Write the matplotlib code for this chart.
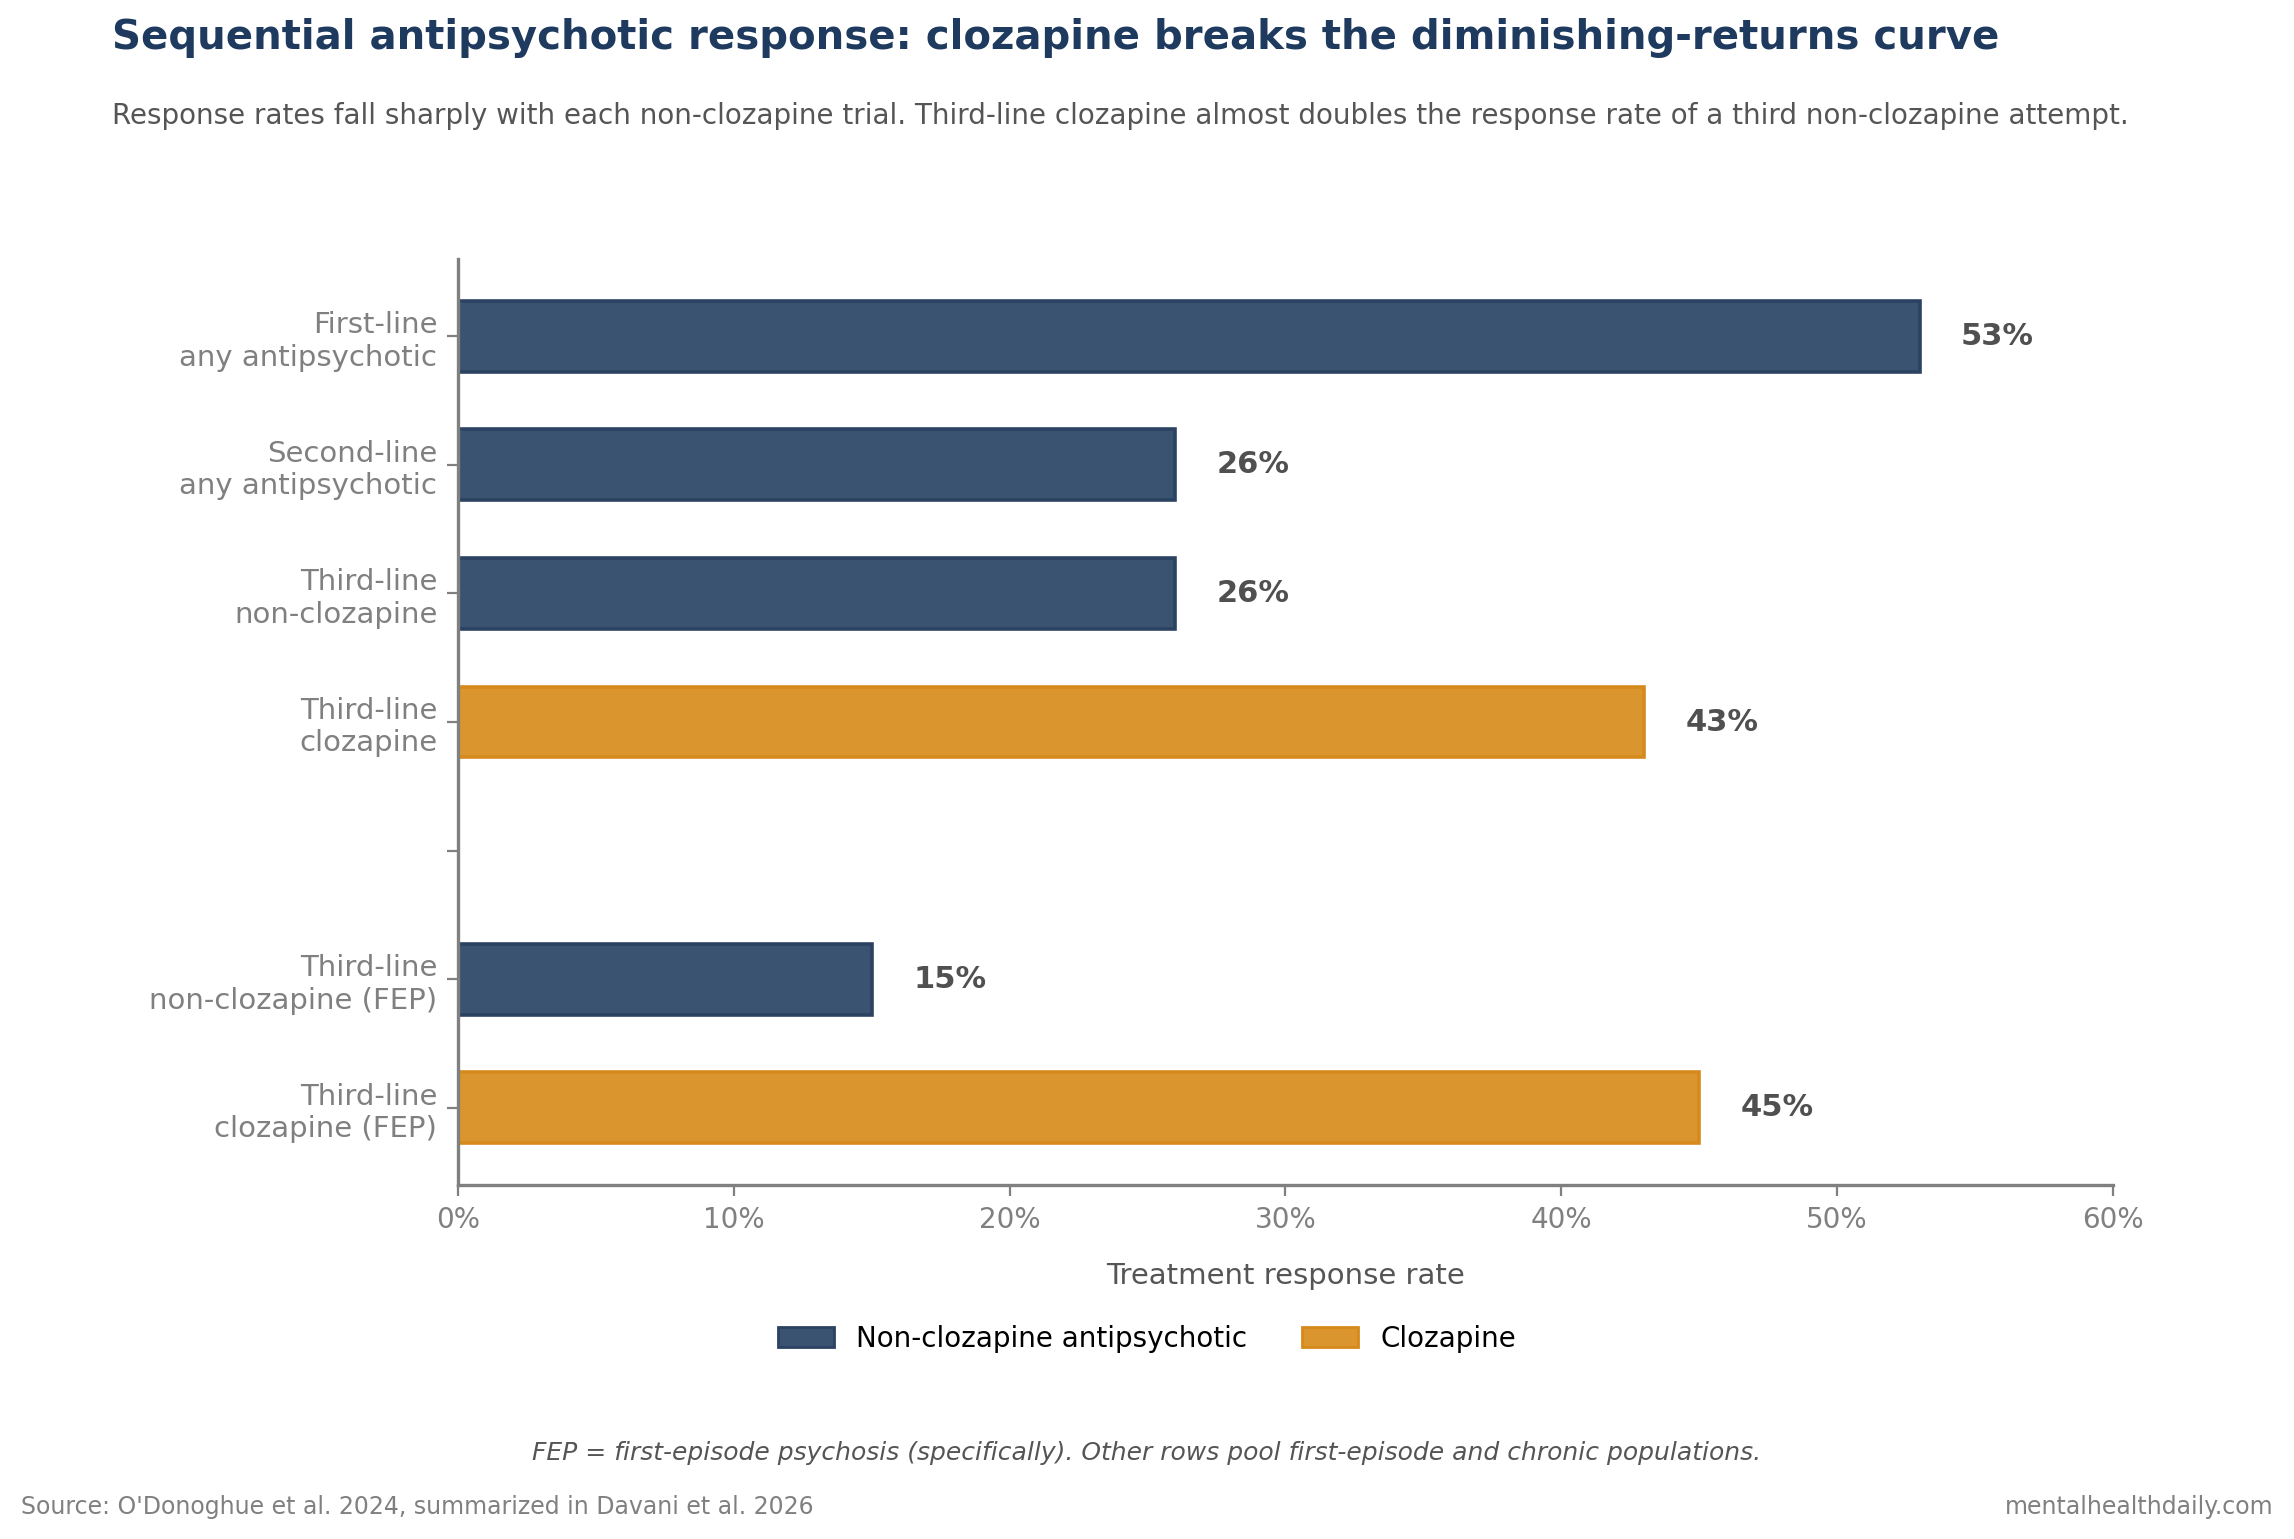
import matplotlib.pyplot as plt
from matplotlib.patches import Patch

# data
labels = ["First-line\nany antipsychotic", "Second-line\nany antipsychotic",
          "Third-line\nnon-clozapine", "Third-line\nclozapine", "",
          "Third-line\nnon-clozapine (FEP)", "Third-line\nclozapine (FEP)"]
values = [53, 26, 26, 43, None, 15, 45]
is_clozapine = [False, False, False, True, None, False, True]

navy = "#3a5371"
navy_edge = "#2b4262"
orange = "#db952e"
orange_edge = "#d68a1c"
grey = "#808080"

fig = plt.figure(figsize=(11.47, 7.695), dpi=200)
ax = fig.add_axes([0.1997, 0.230, 0.7213, 0.6017])

for i, (v, c) in enumerate(zip(values, is_clozapine)):
    if v is None:
        continue
    fc, ec = (orange, orange_edge) if c else (navy, navy_edge)
    ax.barh(i, v, height=0.55, color=fc, edgecolor=ec, linewidth=1.3)
    ax.text(v + 1.5, i, f"{v}%", va="center", ha="left", fontsize=11,
            fontweight="bold", color="#505050")

ax.set_yticks(range(len(labels)))
ax.set_yticklabels(labels, fontsize=10.5, color=grey)
ax.set_ylim(6.6, -0.6)
ax.set_xlim(0, 60)
ax.set_xticks(range(0, 61, 10))
ax.set_xticklabels([f"{x}%" for x in range(0, 61, 10)], fontsize=10, color=grey)
ax.tick_params(axis="both", colors=grey, length=4, width=0.8)
ax.tick_params(axis="x", labelcolor=grey)
ax.tick_params(axis="y", labelcolor=grey)
for s in ["top", "right"]:
    ax.spines[s].set_visible(False)
for s in ["left", "bottom"]:
    ax.spines[s].set_color(grey)
    ax.spines[s].set_linewidth(1.2)
ax.set_xlabel("Treatment response rate", fontsize=10.5, color="#555555", labelpad=10)

handles = [Patch(facecolor=navy, edgecolor=navy_edge, label="Non-clozapine antipsychotic"),
           Patch(facecolor=orange, edgecolor=orange_edge, label="Clozapine")]
fig.legend(handles=handles, loc="center", bbox_to_anchor=(0.5, 0.130), ncol=2,
           frameon=False, fontsize=10, handlelength=2.0, handleheight=0.7,
           columnspacing=2.0)

fig.text(0.049, 0.975, "Sequential antipsychotic response: clozapine breaks the diminishing-returns curve",
         fontsize=14.5, fontweight="bold", color="#1f3a5f", va="center", ha="left")
fig.text(0.049, 0.9245, "Response rates fall sharply with each non-clozapine trial. Third-line clozapine almost doubles the response rate of a third non-clozapine attempt.",
         fontsize=10, color="#555555", va="center", ha="left")
fig.text(0.5, 0.056, "FEP = first-episode psychosis (specifically). Other rows pool first-episode and chronic populations.",
         fontsize=9, style="italic", color="#555555", va="center", ha="center")
fig.text(0.009, 0.0205, "Source: O'Donoghue et al. 2024, summarized in Davani et al. 2026",
         fontsize=8.5, color=grey, va="center", ha="left")
fig.text(0.991, 0.0205, "mentalhealthdaily.com", fontsize=8.5, color=grey, va="center", ha="right")

fig.savefig("out.png", dpi=200)
